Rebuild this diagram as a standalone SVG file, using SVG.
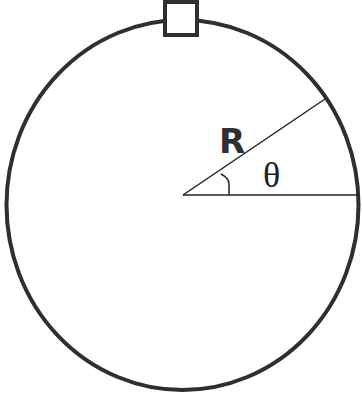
<svg xmlns="http://www.w3.org/2000/svg" width="362" height="398" viewBox="0 0 362 398">
<style>
.thick{fill:none;stroke:#2e2e33;stroke-width:4}
.thin{fill:none;stroke:#222;stroke-width:1.5}
</style>
<rect width="362" height="398" fill="#fff"/>
<g id="ring"><ellipse class="thick" cx="182.5" cy="205" rx="176" ry="185"/></g>
<g id="bead"><rect x="165" y="2" width="32" height="33" fill="#fff" stroke="#2e2e33" stroke-width="4"/></g>
<g id="lines">
<line class="thin" x1="183" y1="195" x2="359" y2="195"/>
<line class="thin" x1="183" y1="195" x2="325" y2="99"/>
<path class="thin" d="M221,174 Q229,178 229,184 L229,195"/>
</g>
<g id="labels">
<text x="219" y="153" font-family="'DejaVu Sans',sans-serif" font-weight="bold" font-size="34" fill="#2e2e33">R</text>
<text x="263" y="187" font-family="'Liberation Serif',serif" font-size="36" fill="#222">θ</text>
</g>
</svg>
